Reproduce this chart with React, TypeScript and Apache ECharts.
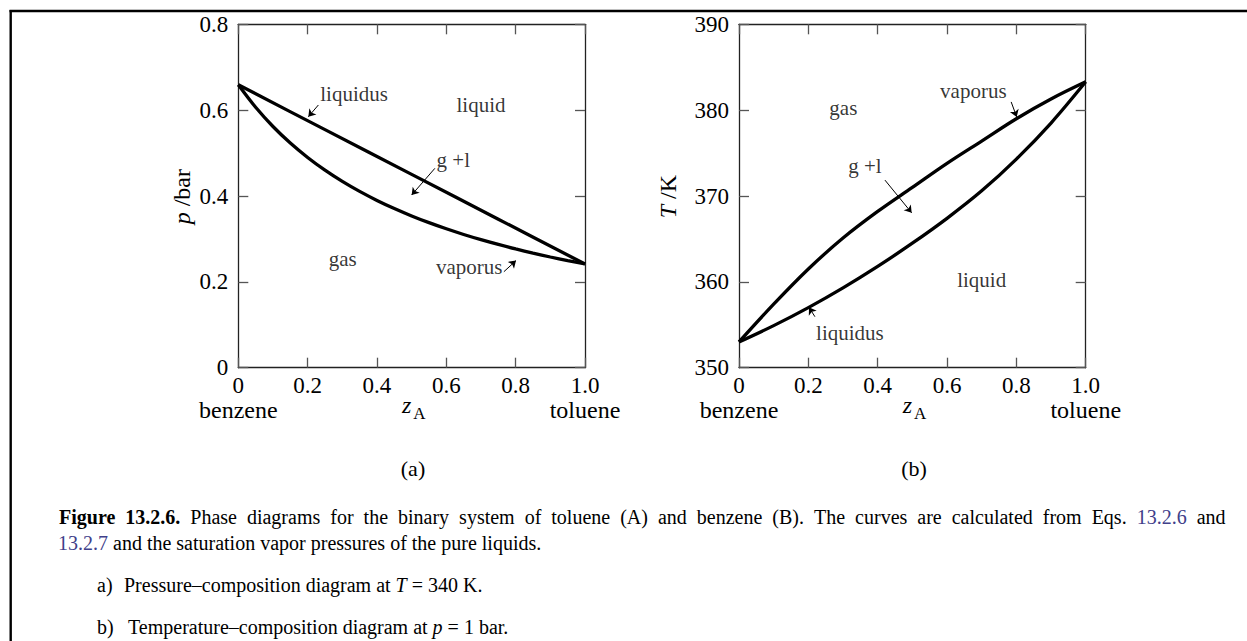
import React, { useEffect, useRef } from "react";
import * as echarts from "echarts";

// ---------- data ----------
const leftLiquidusZ = [0, 0.25, 0.5, 0.75, 1.0];
const leftLiquidusP = [0.659, 0.5546, 0.4503, 0.3459, 0.2416];

const leftVaporusZ = [0, 0.05, 0.1, 0.15, 0.2, 0.25, 0.3, 0.35, 0.4, 0.45, 0.5, 0.55, 0.6, 0.65, 0.7, 0.75, 0.8, 0.85, 0.9, 0.95, 1.0];
const leftVaporusP = [0.659, 0.6066, 0.5619, 0.5234, 0.4898, 0.4602, 0.434, 0.4107, 0.3897, 0.3708, 0.3536, 0.3379, 0.3236, 0.3104, 0.2983, 0.2871, 0.2767, 0.267, 0.2579, 0.2495, 0.2416];

const rightZ = [0, 0.1, 0.2, 0.3, 0.4, 0.5, 0.6, 0.7, 0.8, 0.9, 1.0];
const rightVaporusT = [353.0, 357.4, 361.5, 365.1, 368.2, 371.0, 373.8, 376.4, 379.0, 381.3, 383.3];
const rightLiquidusT = [353.0, 354.9, 357.0, 359.3, 361.8, 364.5, 367.4, 370.6, 374.3, 378.5, 383.3];

const zTickInterval = 0.2;
const pTickInterval = 0.2;
const tTickInterval = 10;

// annotation labels [z, value, text]
const leftLabels: [number, number, string][] = [
  [0.334, 0.6376, "liquidus"],
  [0.7, 0.612, "liquid"],
  [0.62, 0.4839, "g +l"],
  [0.301, 0.2525, "gas"],
  [0.666, 0.2353, "vaporus"],
];
const rightLabels: [number, number, string][] = [
  [0.676, 382.24, "vaporus"],
  [0.301, 380.3, "gas"],
  [0.363, 373.5, "g +l"],
  [0.7, 360.2, "liquid"],
  [0.32, 354.0, "liquidus"],
];
// arrows [fromZ, fromV, toZ, toV]
const leftArrows: [number, number, number, number][] = [
  [0.231, 0.612, 0.202, 0.5847],
  [0.567, 0.4645, 0.5, 0.4023],
  [0.766, 0.2236, 0.801, 0.2495],
];
const rightArrows: [number, number, number, number][] = [
  [0.785, 380.96, 0.801, 379.21],
  [0.421, 371.85, 0.498, 368.04],
  [0.219, 355.94, 0.202, 357.03],
];

const captionWords = [
  "{b|Figure}", "{b|13.2.6.}", "Phase", "diagrams", "for", "the", "binary", "system", "of", "toluene",
  "(A)", "and", "benzene", "(B).", "The", "curves", "are", "calculated", "from", "Eqs.", "{l|13.2.6}", "and",
];

const SERIF = "'Liberation Serif', 'Times New Roman', serif";

function zip(a: number[], b: number[]) {
  return a.map((v, i) => [v, b[i]]);
}

function xAxes(grid: number) {
  const common = {
    gridIndex: grid,
    type: "value" as const,
    min: 0,
    max: 1,
    interval: zTickInterval,
    splitLine: { show: false },
    axisLine: { show: true, onZero: false, lineStyle: { color: "#222", width: 1.3 } },
    axisTick: { show: true, inside: true, length: 10, lineStyle: { color: "#555", width: 1.3 } },
  };
  return [
    {
      ...common,
      position: "bottom" as const,
      axisLabel: {
        show: true,
        margin: 6,
        color: "#000",
        fontFamily: SERIF,
        fontSize: 23,
        showMinLabel: true,
        showMaxLabel: true,
        formatter: (v: number) => (v === 0 ? "0" : v.toFixed(1)),
      },
    },
    { ...common, position: "top" as const, axisLabel: { show: false } },
  ];
}

function yAxes(grid: number, min: number, max: number, interval: number, fmt: (v: number) => string) {
  const common = {
    gridIndex: grid,
    type: "value" as const,
    min,
    max,
    interval,
    splitLine: { show: false },
    axisLine: { show: true, onZero: false, lineStyle: { color: "#222", width: 1.3 } },
    axisTick: { show: true, inside: true, length: 10, lineStyle: { color: "#555", width: 1.3 } },
  };
  return [
    {
      ...common,
      position: "left" as const,
      axisLabel: {
        show: true,
        margin: 10,
        color: "#000",
        fontFamily: SERIF,
        fontSize: 23,
        showMinLabel: true,
        showMaxLabel: true,
        formatter: fmt,
      },
    },
    { ...common, position: "right" as const, axisLabel: { show: false } },
  ];
}

function curve(name: string, xi: number, yi: number, data: number[][]) {
  return {
    name,
    type: "line",
    xAxisIndex: xi,
    yAxisIndex: yi,
    data,
    smooth: 0.35,
    showSymbol: false,
    symbol: "none",
    silent: true,
    lineStyle: { color: "#000", width: 3.3 },
    z: 3,
  };
}

function annotations(xi: number, yi: number, labels: [number, number, string][], arrows: [number, number, number, number][]) {
  return {
    type: "scatter",
    xAxisIndex: xi,
    yAxisIndex: yi,
    symbolSize: 0,
    silent: true,
    data: labels.map((l) => [l[0], l[1], l[2]]),
    label: {
      show: true,
      position: "inside",
      align: "center",
      verticalAlign: "middle",
      color: "#000",
      fontFamily: SERIF,
      fontSize: 21,
      formatter: (p: any) => p.value[2],
    },
    markLine: {
      silent: true,
      animation: false,
      symbol: ["none", "arrow"],
      symbolSize: 7,
      label: { show: false },
      lineStyle: { color: "#000", width: 1, type: "solid" },
      emphasis: { disabled: true },
      data: arrows.map((a) => [{ coord: [a[0], a[1]] }, { coord: [a[2], a[3]] }]),
    },
    z: 4,
  };
}

function txt(x: number, y: number, text: string, size: number, extra: any = {}) {
  return {
    type: "text",
    x,
    y,
    silent: true,
    style: {
      text,
      fill: "#000",
      fontFamily: SERIF,
      fontSize: size,
      align: "center",
      verticalAlign: "middle",
      ...extra,
    },
  };
}

const LINK = "#40408a";

export default function App() {
  const ref = useRef<HTMLDivElement>(null);
  useEffect(() => {
    if (!ref.current) return;
    const chart = echarts.init(ref.current, null, { renderer: "svg" });
    const option: any = {
      animation: false,
      backgroundColor: "#fff",
      grid: [
        { left: 238.3, top: 24.3, width: 346.7, height: 343.4 },
        { left: 739, top: 24.3, width: 346.7, height: 343.4 },
      ],
      xAxis: [...xAxes(0), ...xAxes(1)],
      yAxis: [
        ...yAxes(0, 0, 0.8, pTickInterval, (v: number) => (v === 0 ? "0" : v.toFixed(1))),
        ...yAxes(1, 350, 390, tTickInterval, (v: number) => String(v)),
      ],
      series: [
        curve("liquidus (a)", 0, 0, zip(leftLiquidusZ, leftLiquidusP)),
        curve("vaporus (a)", 0, 0, zip(leftVaporusZ, leftVaporusP)),
        curve("vaporus (b)", 2, 2, zip(rightZ, rightVaporusT)),
        curve("liquidus (b)", 2, 2, zip(rightZ, rightLiquidusT)),
        annotations(0, 0, leftLabels, leftArrows),
        annotations(2, 2, rightLabels, rightArrows),
      ],
      graphic: [
        // frame
        { type: "line", silent: true, shape: { x1: 9.5, y1: 11, x2: 1247, y2: 11 }, style: { stroke: "#000", lineWidth: 2.4 } },
        { type: "line", silent: true, shape: { x1: 10.7, y1: 10, x2: 10.7, y2: 641 }, style: { stroke: "#000", lineWidth: 2.4 } },
        // axis titles, plot (a)
        txt(238.3, 410, "benzene", 24),
        txt(585, 410, "toluene", 24),
        txt(406.7, 405, "z", 24, { fontStyle: "italic" }),
        txt(419.5, 413, "A", 17),
        txt(413, 468, "(a)", 22),
        {
          type: "text",
          x: 181.7,
          y: 196.7,
          rotation: Math.PI / 2,
          silent: true,
          style: {
            text: "{i|p} /bar",
            fill: "#000",
            fontFamily: SERIF,
            fontSize: 24,
            align: "center",
            verticalAlign: "middle",
            rich: { i: { fontStyle: "italic", fontFamily: SERIF, fontSize: 24, fill: "#000" } },
          },
        },
        // plot (b)
        txt(739, 410, "benzene", 24),
        txt(1085.7, 410, "toluene", 24),
        txt(907.4, 405, "z", 24, { fontStyle: "italic" }),
        txt(920.2, 413, "A", 17),
        txt(914, 468, "(b)", 22),
        {
          type: "text",
          x: 668.3,
          y: 196.7,
          rotation: Math.PI / 2,
          silent: true,
          style: {
            text: "{i|T} /K",
            fill: "#000",
            fontFamily: SERIF,
            fontSize: 24,
            align: "center",
            verticalAlign: "middle",
            rich: { i: { fontStyle: "italic", fontFamily: SERIF, fontSize: 24, fill: "#000" } },
          },
        },
        // caption (justified first line)
        {
          type: "text",
          x: 59,
          y: 517,
          silent: true,
          style: {
            text: captionWords.join("{s| }"),
            fill: "#000",
            fontFamily: SERIF,
            fontSize: 20,
            align: "left",
            verticalAlign: "middle",
            rich: {
              b: { fontWeight: "bold", fontFamily: SERIF, fontSize: 20, fill: "#000" },
              l: { fontFamily: SERIF, fontSize: 20, fill: LINK },
              s: { fontFamily: SERIF, fontSize: 20, width: 10 },
            },
          },
        },
        {
          type: "text",
          x: 58,
          y: 543,
          silent: true,
          style: {
            text: "{l|13.2.7} and the saturation vapor pressures of the pure liquids.",
            fill: "#000",
            fontFamily: SERIF,
            fontSize: 20,
            align: "left",
            verticalAlign: "middle",
            rich: { l: { fontFamily: SERIF, fontSize: 20, fill: LINK } },
          },
        },
        txt(97, 585, "a)", 20, { align: "left" }),
        {
          type: "text",
          x: 124,
          y: 585,
          silent: true,
          style: {
            text: "Pressure–composition diagram at {i|T} = 340 K.",
            fill: "#000",
            fontFamily: SERIF,
            fontSize: 20,
            align: "left",
            verticalAlign: "middle",
            rich: { i: { fontStyle: "italic", fontFamily: SERIF, fontSize: 20, fill: "#000" } },
          },
        },
        txt(97, 627, "b)", 20, { align: "left" }),
        {
          type: "text",
          x: 128,
          y: 627,
          silent: true,
          style: {
            text: "Temperature–composition diagram at {i|p} = 1 bar.",
            fill: "#000",
            fontFamily: SERIF,
            fontSize: 20,
            align: "left",
            verticalAlign: "middle",
            rich: { i: { fontStyle: "italic", fontFamily: SERIF, fontSize: 20, fill: "#000" } },
          },
        },
      ],
    };
    chart.setOption(option);
    return () => chart.dispose();
  }, []);
  return (
    <div
      ref={ref}
      style={{ position: "fixed", left: 0, top: 0, width: 1247, height: 641, background: "#fff" }}
    />
  );
}
